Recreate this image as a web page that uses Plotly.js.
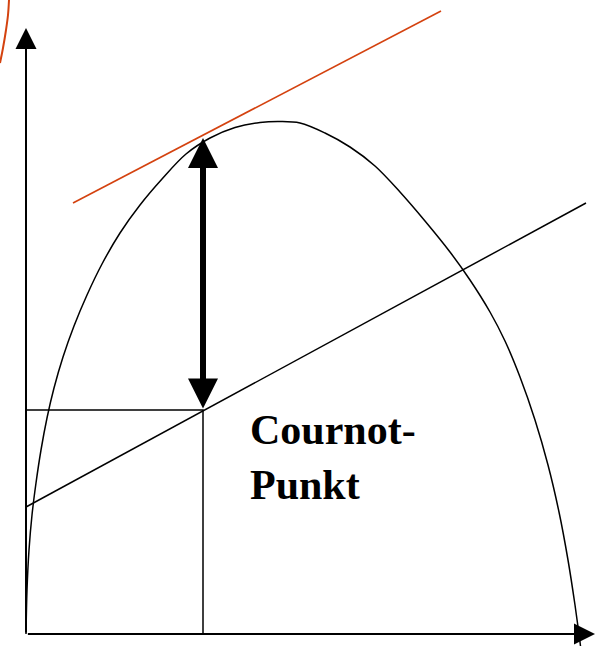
<!DOCTYPE html>
<html>
<head>
<meta charset="utf-8">
<script src="https://cdn.plot.ly/plotly-3.0.1.min.js"></script>
<style>html,body{margin:0;padding:0;background:#fff;}#chart{width:596px;height:646px;}</style>
</head>
<body>
<div id="chart"></div>
<script>
// Schematic units: quantity (x) and money (y), origin at the axes' corner
const erloesMenge = [0, 1, 3, 6, 10, 15, 21, 28, 37, 48, 61, 76, 94, 114, 136, 160, 184, 209, 234, 254, 274, 299, 324, 349, 374, 399, 424, 444, 464, 479, 494, 509, 522, 533, 542, 549, 553, 554.5];
const erloesWert  = [0, 44, 84, 119, 151, 184, 216, 246, 277, 308, 339, 370, 401, 429, 455, 480, 496, 506.5, 511.5, 512.5, 511, 501, 487, 468, 442, 413, 382, 354, 322, 293, 257, 214, 169, 122, 74, 29, 0, -12];

const kostenMenge = [0, 560];
const kostenWert  = [127, 431];

const tangenteMenge = [47, 415];
const tangenteWert  = [431, 623];

const lotMenge = [0, 177, 177];
const lotWert  = [224, 224, 0];

const bogenMenge = [-26, -23, -20, -18, -17];
const bogenWert  = [571, 586, 604, 619, 634];

const cournotMenge = 177;
const cournotKosten = 224;
const cournotErloes = 496;

const achseYEnde = 606;

const labelText = "Cournot-<br>Punkt";

const traces = [
  {x: erloesMenge, y: erloesWert, mode: 'lines', line: {color: '#000', width: 1.5, shape: 'spline', smoothing: 1}, hoverinfo: 'skip'},
  {x: kostenMenge, y: kostenWert, mode: 'lines', line: {color: '#000', width: 1.5}, hoverinfo: 'skip'},
  {x: tangenteMenge, y: tangenteWert, mode: 'lines', line: {color: '#D4420F', width: 1.6}, hoverinfo: 'skip'},
  {x: lotMenge, y: lotWert, mode: 'lines', line: {color: '#000', width: 1.5}, hoverinfo: 'skip'},
  {x: bogenMenge, y: bogenWert, mode: 'lines', line: {color: '#D4420F', width: 2, shape: 'spline'}, hoverinfo: 'skip'}
];

const layout = {
  width: 596, height: 646,
  margin: {l: 0, r: 0, t: 0, b: 0},
  paper_bgcolor: '#fff', plot_bgcolor: '#fff',
  showlegend: false,
  xaxis: {range: [-26, 570], visible: false, showgrid: false, zeroline: false, fixedrange: true},
  yaxis: {range: [-12, 634], visible: false, showgrid: false, zeroline: false, fixedrange: true},
  annotations: [
    {x: 0, y: achseYEnde, ax: 0, ay: 0, xref: 'x', yref: 'y', axref: 'x', ayref: 'y', text: '', showarrow: true, arrowhead: 2, arrowsize: 2.1, arrowwidth: 2, arrowcolor: '#000', standoff: 0},
    {x: 1.009, y: 0, ax: -575, ay: 0, xref: 'paper', yref: 'y', axref: 'pixel', ayref: 'pixel', text: '', showarrow: true, arrowhead: 2, arrowsize: 2.1, arrowwidth: 2, arrowcolor: '#000', standoff: 0},
    {x: cournotMenge, y: cournotErloes, ax: cournotMenge, ay: cournotKosten, xref: 'x', yref: 'y', axref: 'x', ayref: 'y', text: '', showarrow: true, arrowhead: 2, startarrowhead: 2, arrowside: 'end+start', arrowsize: 1, startarrowsize: 1, arrowwidth: 6, arrowcolor: '#000', standoff: 0, startstandoff: 0},
    {x: 222, y: 177, xref: 'x', yref: 'y', text: '<b>' + labelText + '</b>', showarrow: false, xanchor: 'left', yanchor: 'middle', align: 'left',
     font: {family: 'Liberation Serif, Times New Roman, serif', size: 42, color: '#000'}}
  ]
};

Plotly.newPlot('chart', traces, layout, {staticPlot: true, displayModeBar: false});
</script>
</body>
</html>
